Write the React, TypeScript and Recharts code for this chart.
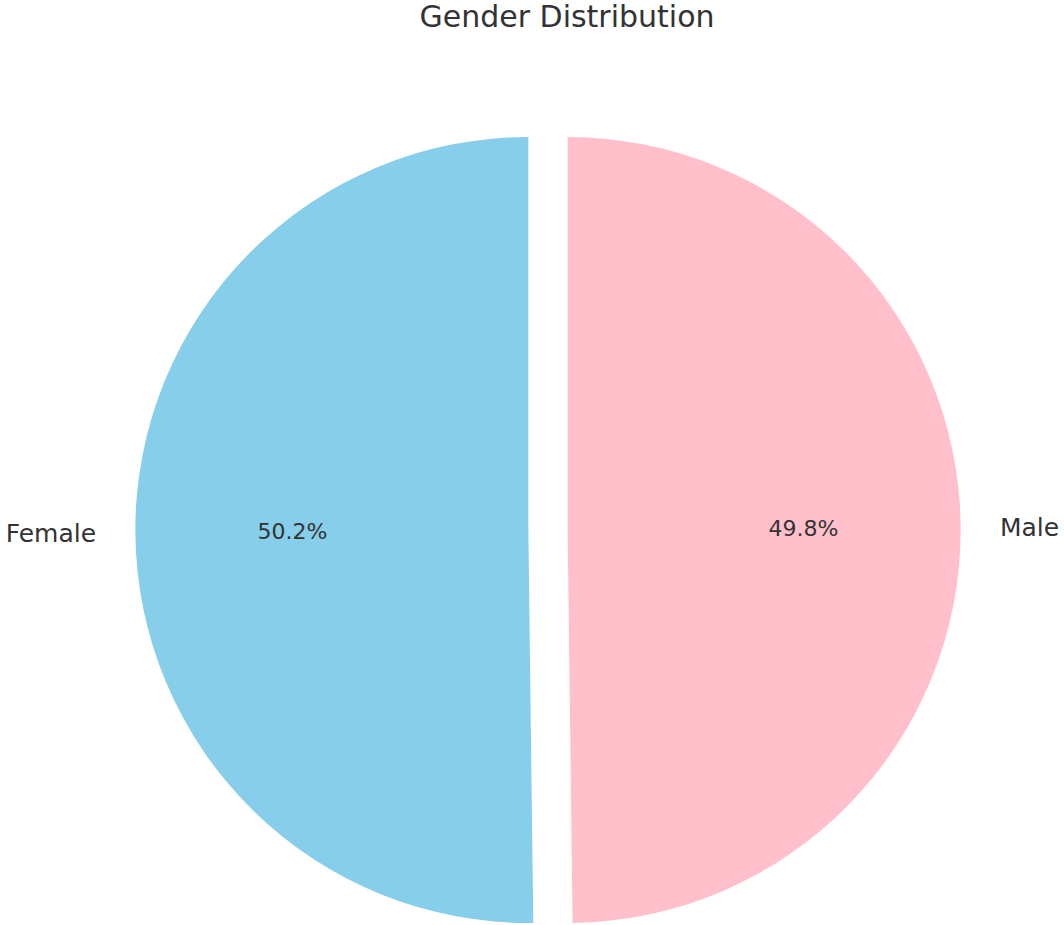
import React from "react";
import { PieChart, Pie, Cell } from "recharts";

const categories = ["Female", "Male"];
const shares = [50.2, 49.8];
const colors = ["#87CEEB", "#FFC0CB"];
const title = "Gender Distribution";

const data = categories.map((name, i) => ({ name, value: shares[i] }));

const W = 1064;
const H = 925;
const CX = 548;
const CY = 530;
const R = 393;
const EXPLODE = 0.05;
const RAD = Math.PI / 180;

const makeLabel = (own: number) => (props: any) => {
  const { cx, cy, midAngle, outerRadius, percent, name, index } = props;
  if (index !== own) return null;
  const cos = Math.cos(-midAngle * RAD);
  const sin = Math.sin(-midAngle * RAD);
  const lx = cx + outerRadius * 1.1 * cos;
  const ly = cy + outerRadius * 1.1 * sin;
  const px = cx + outerRadius * 0.6 * cos;
  const py = cy + outerRadius * 0.6 * sin;
  return (
    <g>
      <text
        x={lx}
        y={ly + 25 * 0.36}
        textAnchor={cos >= 0 ? "start" : "end"}
        fontSize={25}
        fontFamily="DejaVu Sans"
        fill="#333"
      >
        {name}
      </text>
      <text
        x={px}
        y={py + 22 * 0.36}
        textAnchor="middle"
        fontSize={22}
        fontFamily="DejaVu Sans"
        fill="#333"
      >
        {(percent * 100).toFixed(1)}%
      </text>
    </g>
  );
};

export default function App() {
  const off = EXPLODE * R;
  return (
    <div style={{ position: "absolute", left: 0, top: 0, background: "#fff" }}>
      <PieChart width={W} height={H} margin={{ top: 0, right: 0, bottom: 0, left: 0 }}>
        <text
          x={567}
          y={27}
          textAnchor="middle"
          fontSize={30}
          fontFamily="DejaVu Sans"
          fill="#333"
        >
          {title}
        </text>
        {categories.map((_, own) => (
          <Pie
            key={own}
            data={data}
            dataKey="value"
            nameKey="name"
            cx={CX + (own === 0 ? -off : off)}
            cy={CY}
            innerRadius={0}
            outerRadius={R}
            startAngle={90}
            endAngle={450}
            stroke="none"
            labelLine={false}
            label={makeLabel(own)}
            isAnimationActive={false}
          >
            {data.map((d, i) => (
              <Cell key={d.name} fill={i === own ? colors[i] : "transparent"} />
            ))}
          </Pie>
        ))}
      </PieChart>
    </div>
  );
}
